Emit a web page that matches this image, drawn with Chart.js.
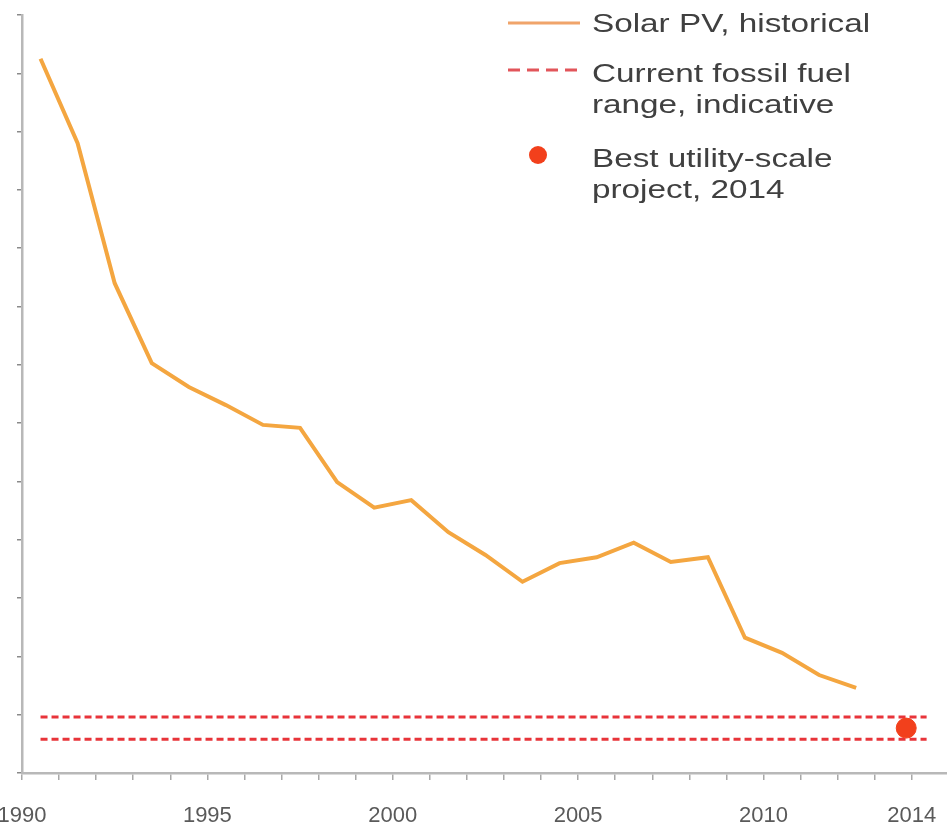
<!DOCTYPE html>
<html>
<head>
<meta charset="utf-8">
<script src="https://cdn.jsdelivr.net/npm/chart.js@4.4.0/dist/chart.umd.min.js"></script>
<style>
  html, body { margin: 0; padding: 0; background: #fff; overflow: hidden; }
  #pvChart { display: block; position: absolute; left: 0; top: 0; }
</style>
</head>
<body>
<canvas id="pvChart" width="947" height="827"></canvas>
<script>
// datos (unidades = intervalos del eje Y)
const years = [1990, 1991, 1992, 1993, 1994, 1995, 1996, 1997, 1998, 1999, 2000, 2001,
               2002, 2003, 2004, 2005, 2006, 2007, 2008, 2009, 2010, 2011, 2012];
const solarPV = [12.25, 10.8, 8.4, 7.03, 6.62, 6.31, 5.97, 5.92, 4.99, 4.55, 4.68, 4.13,
                 3.74, 3.28, 3.60, 3.70, 3.95, 3.62, 3.70, 2.32, 2.06, 1.68, 1.46];
const fossilYears = [1990.5, 2014.4];
const fossilHigh = [0.96, 0.96];
const fossilLow = [0.58, 0.58];
const bestProjectYear = [2013.85];
const bestProject = [0.77];
const xTickYears = [1990, 1991, 1992, 1993, 1994, 1995, 1996, 1997, 1998, 1999, 2000, 2001, 2002,
                    2003, 2004, 2005, 2006, 2007, 2008, 2009, 2010, 2011, 2012, 2013, 2014];
const xLabelYears = [1990, 1995, 2000, 2005, 2010, 2014];
const yTicks = [0, 1, 2, 3, 4, 5, 6, 7, 8, 9, 10, 11, 12, 13];

const ORANGE = "#f4a640";
const RED = "#e8343a";
const DOT = "#f2401c";

// leyenda dibujada sobre el area del grafico
const legendPlugin = {
  id: "sideLegend",
  afterDraw(chart) {
    const ctx = chart.ctx;
    ctx.save();
    ctx.lineCap = "butt";

    ctx.strokeStyle = "#f0a46a";
    ctx.lineWidth = 3;
    ctx.beginPath(); ctx.moveTo(508, 23); ctx.lineTo(580, 23); ctx.stroke();

    ctx.strokeStyle = "#e2555a";
    ctx.setLineDash([12, 7]);
    ctx.beginPath(); ctx.moveTo(508, 70); ctx.lineTo(580, 70); ctx.stroke();
    ctx.setLineDash([]);

    ctx.fillStyle = DOT;
    ctx.beginPath(); ctx.arc(538, 155, 9, 0, Math.PI * 2); ctx.fill();

    ctx.fillStyle = "#404040";
    ctx.font = '26px "Liberation Sans", Arial, sans-serif';
    ctx.textBaseline = "middle";
    const lines = [
      ["Solar PV, historical", 25],
      ["Current fossil fuel", 75],
      ["range, indicative", 106],
      ["Best utility-scale", 160],
      ["project, 2014", 191],
    ];
    lines.forEach(([t, y]) => {
      ctx.save();
      ctx.translate(592, y);
      ctx.scale(1.28, 1);
      ctx.fillText(t, 0, 0);
      ctx.restore();
    });
    ctx.restore();
  }
};

new Chart(document.getElementById("pvChart"), {
  type: "scatter",
  data: {
    datasets: [
      {
        label: "Best utility-scale project, 2014",
        data: bestProjectYear.map((x, i) => ({ x: x, y: bestProject[i] })),
        backgroundColor: DOT,
        borderColor: DOT,
        pointRadius: 10,
        order: 0,
      },
      {
        label: "Solar PV, historical",
        data: years.map((y, i) => ({ x: y + 0.5, y: solarPV[i] })), // mitad de año
        showLine: true,
        borderColor: ORANGE,
        borderWidth: 4,
        pointRadius: 0,
        tension: 0,
        order: 1,
      },
      {
        label: "Current fossil fuel range, indicative",
        data: fossilYears.map((x, i) => ({ x: x, y: fossilHigh[i] })),
        showLine: true,
        borderColor: RED,
        borderWidth: 3,
        borderDash: [7, 4],
        pointRadius: 0,
        order: 2,
      },
      {
        label: "fossil low",
        data: fossilYears.map((x, i) => ({ x: x, y: fossilLow[i] })),
        showLine: true,
        borderColor: RED,
        borderWidth: 3,
        borderDash: [7, 4],
        pointRadius: 0,
        order: 2,
      },
    ],
  },
  options: {
    responsive: false,
    maintainAspectRatio: false,
    animation: false,
    layout: { autoPadding: false, padding: { left: 17, top: 15, right: 0, bottom: 0 } },
    plugins: {
      legend: { display: false },
      tooltip: { enabled: false },
    },
    scales: {
      x: {
        type: "linear",
        min: 1990,
        max: 2014.95,
        afterBuildTicks: (scale) => {
          scale.ticks = xTickYears.map((v) => ({ value: v }));
        },
        afterFit: (scale) => {
          scale.paddingLeft = 0;
          scale.paddingRight = 0;
          scale.height = 54;
        },
        border: { color: "#b8b8b8", width: 2.5 },
        grid: { drawOnChartArea: false, drawTicks: true, tickLength: 7, color: "#a8a8a8", lineWidth: 1.5 },
        ticks: {
          autoSkip: false,
          maxRotation: 0,
          padding: 25,
          color: "#5a5a5a",
          font: { family: '"Liberation Sans", Arial, sans-serif', size: 22, lineHeight: 1 },
          callback: (v) => (xLabelYears.includes(v) ? String(v) : ""),
        },
      },
      y: {
        min: 0,
        max: 13,
        afterBuildTicks: (scale) => {
          scale.ticks = yTicks.map((v) => ({ value: v }));
        },
        border: { color: "#b8b8b8", width: 2.5 },
        grid: { drawOnChartArea: false, drawTicks: true, tickLength: 5, color: "#8a8a8a", lineWidth: 1.5 },
        ticks: { display: false },
      },
    },
  },
  plugins: [legendPlugin],
});
</script>
</body>
</html>
